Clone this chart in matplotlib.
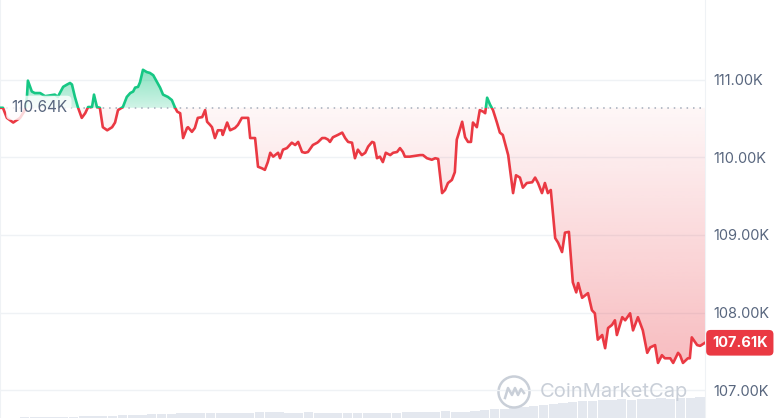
import numpy as np
import matplotlib
matplotlib.use('Agg')
import matplotlib.pyplot as plt
import matplotlib.transforms as mtransforms
from matplotlib.colors import to_rgb
from matplotlib.patches import Rectangle, Ellipse
from matplotlib.path import Path

plt.rcParams['font.family'] = ['Inter', 'DejaVu Sans']

# minutes since the start of the 24h window
minutes = [
    0, 6, 14, 27, 41, 51, 55, 57, 65, 71,
    82, 92, 112, 118, 129, 137, 143, 147, 153, 159,
    167, 174, 180, 188, 192, 198, 204, 210, 219, 229,
    235, 241, 251, 259, 266, 272, 276, 282, 286, 292,
    300, 306, 313, 321, 327, 333, 343, 351, 357, 362,
    368, 374, 382, 384, 392, 398, 404, 413, 419, 423,
    429, 433, 439, 445, 453, 455, 464, 470, 480, 486,
    494, 500, 507, 511, 521, 527, 535, 541, 547, 552,
    558, 562, 568, 572, 578, 586, 596, 603, 609, 617,
    623, 629, 639, 648, 650, 658, 664, 670, 674, 680,
    690, 699, 705, 711, 719, 725, 731, 739, 746, 752,
    760, 764, 770, 776, 782, 788, 797, 803, 811, 817,
    823, 827, 837, 848, 858, 864, 872, 882, 889, 895,
    903, 909, 915, 923, 929, 933, 936, 944, 950, 956,
    962, 966, 974, 980, 987, 991, 995, 1001, 1007, 1015,
    1021, 1027, 1038, 1048, 1054, 1062, 1068, 1076, 1087, 1093,
    1099, 1107, 1113, 1119, 1125, 1134, 1140, 1148, 1154, 1162,
    1170, 1177, 1181, 1189, 1201, 1209, 1215, 1221, 1230, 1236,
    1242, 1250, 1256, 1260, 1271, 1277, 1287, 1293, 1303, 1313,
    1322, 1328, 1338, 1344, 1352, 1358, 1369, 1375, 1385, 1389,
    1395, 1405, 1409, 1413, 1424, 1430, 1440,
]

# BTC price in thousands of USD
price_k = [
    110.64, 110.64, 110.51, 110.45, 110.51, 110.61, 110.78, 110.99, 110.85, 110.83,
    110.83, 110.79, 110.81, 110.78, 110.91, 110.94, 110.96, 110.94, 110.78, 110.65,
    110.51, 110.57, 110.65, 110.65, 110.81, 110.65, 110.64, 110.39, 110.35, 110.39,
    110.45, 110.61, 110.65, 110.78, 110.83, 110.85, 110.90, 110.91, 110.97, 111.13,
    111.10, 111.09, 111.06, 110.97, 110.90, 110.81, 110.78, 110.74, 110.65, 110.59,
    110.57, 110.25, 110.38, 110.39, 110.33, 110.38, 110.51, 110.52, 110.61, 110.46,
    110.42, 110.39, 110.25, 110.35, 110.35, 110.29, 110.45, 110.35, 110.38, 110.42,
    110.51, 110.51, 110.51, 110.25, 110.25, 109.88, 109.86, 109.84, 109.94, 110.06,
    110.01, 110.03, 110.06, 109.99, 110.10, 110.12, 110.19, 110.16, 110.20, 110.07,
    110.06, 110.07, 110.16, 110.19, 110.20, 110.25, 110.25, 110.23, 110.20, 110.26,
    110.29, 110.32, 110.25, 110.20, 110.19, 109.99, 110.10, 110.03, 110.06, 110.14,
    110.20, 110.19, 109.99, 110.01, 109.94, 110.06, 110.03, 110.06, 110.07, 110.12,
    110.07, 110.01, 110.01, 110.02, 110.03, 110.03, 109.99, 109.97, 109.99, 109.98,
    109.54, 109.58, 109.67, 109.71, 109.81, 110.23, 110.29, 110.46, 110.26, 110.20,
    110.20, 110.45, 110.39, 110.61, 110.59, 110.57, 110.77, 110.68, 110.61, 110.45,
    110.32, 110.29, 110.03, 109.54, 109.77, 109.74, 109.61, 109.67, 109.68, 109.74,
    109.67, 109.54, 109.67, 109.54, 109.58, 108.96, 108.90, 108.78, 109.03, 109.04,
    108.39, 108.26, 108.38, 108.19, 108.25, 108.03, 107.99, 107.65, 107.71, 107.54,
    107.80, 107.84, 107.90, 107.71, 107.94, 107.90, 107.99, 107.77, 107.94, 107.77,
    107.48, 107.55, 107.58, 107.35, 107.45, 107.41, 107.41, 107.35, 107.48, 107.45,
    107.35, 107.41, 107.41, 107.68, 107.58, 107.57, 107.61,
]

open_price = 110.64
last_price = 107.61
y_ticks = [107, 108, 109, 110, 111]

# 20-minute volume bins (arbitrary units)
volume = [
    5, 5, 8, 10, 10, 12, 15, 15, 20, 20, 20, 25,
    30, 30, 35, 40, 40, 40, 50, 50, 50, 50, 55, 50,
    50, 55, 60, 60, 60, 55, 55, 60, 55, 50, 55, 50,
    50, 55, 50, 50, 55, 60, 60, 60, 65, 70, 60, 65,
    70, 80, 90, 90, 100, 110, 120, 130, 140, 150, 160, 170,
    170, 180, 180, 190, 180, 190, 190, 200, 190, 200, 200, 210,
]

RED = '#ea3943'
GREEN = '#16c784'
GRID = '#eff2f5'
TEXT = '#58667e'

t = np.array(minutes)
p = np.array(price_k)
y_lo, y_hi = 106.64, 112.03

fig = plt.figure(figsize=(7.8, 4.18), dpi=100)
ax = fig.add_axes([0, 0, 705 / 780, 1])

# volume bars at the bottom
vax = ax.twinx()
vax.bar(np.arange(len(volume)) * 20 + 10, volume, width=19, color='#e4e8ef', linewidth=0)
vax.set_ylim(0, max(volume) / 0.05)
vax.axis('off')

# gradient fills between the line and the opening price
def gradient_fill(mask, color, a_low, a_high, lo, hi):
    coll = ax.fill_between(t, p, open_price, where=mask, interpolate=True,
                           facecolor='none', edgecolor='none')
    path = Path.make_compound_path(*coll.get_paths())
    grad = np.zeros((256, 1, 4))
    grad[..., :3] = to_rgb(color)
    grad[:, 0, 3] = np.linspace(a_low, a_high, 256)
    im = ax.imshow(grad, extent=[0, 1440, lo, hi], origin='lower',
                   aspect='auto', zorder=1, interpolation='bilinear')
    im.set_clip_path(path, transform=ax.transData)

gradient_fill(p <= open_price, RED, 0.40, 0.04, y_lo, open_price)
gradient_fill(p >= open_price, GREEN, 0.20, 0.55, open_price, 111.2)

# line: green above the open, red below
above = Rectangle((0, open_price), 1440, 10, transform=ax.transData)
below = Rectangle((0, open_price - 10), 1440, 10, transform=ax.transData)
g_line, = ax.plot(t, p, color=GREEN, lw=1.9, zorder=3, solid_joinstyle='round')
g_line.set_clip_path(above)
r_line, = ax.plot(t, p, color=RED, lw=1.9, zorder=3, solid_joinstyle='round')
r_line.set_clip_path(below)

ax.axhline(open_price, color='#a3acba', lw=1.1, ls=(0, (1, 3.2)), zorder=2)

ax.set_xlim(0, 1440)
ax.set_ylim(y_lo, y_hi)
ax.set_xticks([])
ax.yaxis.tick_right()
ax.set_yticks(y_ticks)
ax.set_yticklabels([f'{v:.2f}K' for v in y_ticks])
ax.tick_params(axis='y', length=0, pad=6, labelsize=10.5, labelcolor=TEXT)
ax.grid(axis='y', color=GRID, lw=1, zorder=0)
ax.set_axisbelow(True)
for side in ['top', 'bottom']:
    ax.spines[side].set_visible(False)
for side in ['left', 'right']:
    ax.spines[side].set_color(GRID)
ax.set_zorder(vax.get_zorder() + 1)
ax.patch.set_visible(False)

# opening price label
ax.text(22, open_price, '110.64K', va='center', ha='left', fontsize=11, color=TEXT,
        zorder=6, bbox=dict(boxstyle='round,pad=0.3', fc='white', ec='none', alpha=0.8))

# current price tag
trans = mtransforms.blended_transform_factory(ax.transAxes, ax.transData)
ax.text(1 + 7 / 705, last_price, f'{last_price:.2f}K', transform=trans, va='center',
        ha='left', fontsize=10.5, fontweight='bold', color='white', clip_on=False, zorder=7,
        bbox=dict(boxstyle='round,pad=0.4,rounding_size=0.3', fc=RED, ec='none'))

# watermark
wm = '#c9cfd8'
fig.text(540 / 780, 1 - 392 / 418, 'CoinMarketCap', fontsize=14.5, color=wm,
         va='center', ha='left')
cx, cy = 514 / 780, 1 - 392 / 418
fig.add_artist(Ellipse((cx, cy), 31 / 780, 31 / 418, transform=fig.transFigure,
                       fill=False, ec=wm, lw=1.8))
mx = [cx + d / 780 for d in (-9, -6, -2, 1, 4, 7, 10)]
my = [cy + d / 418 for d in (-6, 4, -3, 4, -3, 3, -1)]
fig.add_artist(plt.Line2D(mx, my, transform=fig.transFigure, color=wm, lw=1.8))

fig.savefig('out.png', dpi=100)
